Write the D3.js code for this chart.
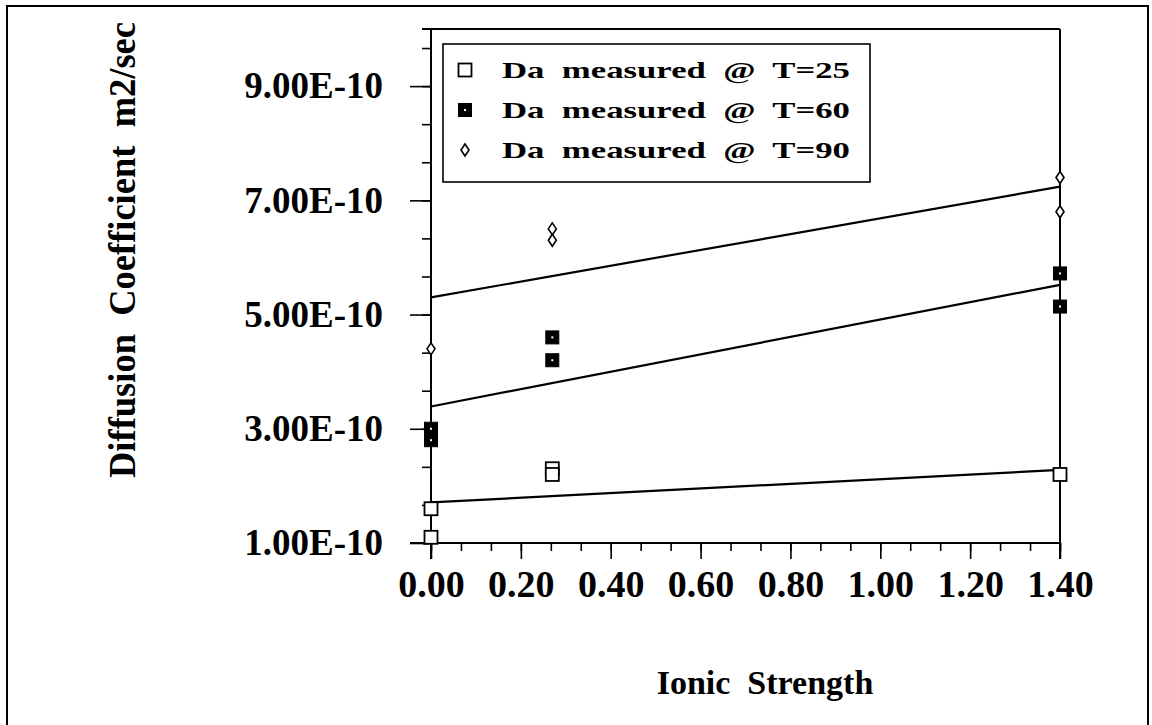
<!DOCTYPE html>
<html>
<head>
<meta charset="utf-8">
<script src="https://cdn.jsdelivr.net/npm/d3@7"></script>
<style>
  body { margin: 0; background: #fff; }
  svg { display: block; }
  text { font-family: "Liberation Serif", "DejaVu Serif", serif; font-weight: bold; fill: #000; }
</style>
</head>
<body>
<svg id="chart" width="1152" height="725"></svg>
<script>
// Measured diffusion coefficients (m2/sec) against ionic strength
const t25X = [0, 0, 0.27, 0.27, 1.40];
const t25Y = [1.10e-10, 1.60e-10, 2.30e-10, 2.20e-10, 2.20e-10];
const t60X = [0, 0, 0.27, 0.27, 1.40, 1.40];
const t60Y = [3.00e-10, 2.80e-10, 4.60e-10, 4.20e-10, 5.72e-10, 5.14e-10];
const t90X = [0, 0.27, 0.27, 1.40, 1.40];
const t90Y = [4.40e-10, 6.50e-10, 6.30e-10, 7.40e-10, 6.80e-10];

// Straight-line fits, end points at ionic strength 0 and 1.40
const fitX = [0, 1.40];
const fit25 = [1.71e-10, 2.28e-10];
const fit60 = [3.39e-10, 5.52e-10];
const fit90 = [5.30e-10, 7.24e-10];

// Axis ticks
const xTickValues = [0, 0.2, 0.4, 0.6, 0.8, 1.0, 1.2, 1.4];
const xTickLabels = ["0.00", "0.20", "0.40", "0.60", "0.80", "1.00", "1.20", "1.40"];
const yTickValues = [1e-10, 3e-10, 5e-10, 7e-10, 9e-10];
const yTickLabels = ["1.00E-10", "3.00E-10", "5.00E-10", "7.00E-10", "9.00E-10"];

const legendLabels = ["Da  measured  @  T=25", "Da  measured  @  T=60", "Da  measured  @  T=90"];

const svg = d3.select("#chart");

const x = d3.scaleLinear().domain([0, 1.40]).range([431, 1060]);
const y = d3.scaleLinear().domain([1e-10, 1e-9]).range([543, 29]);

// outer border
svg.append("path")
  .attr("d", "M7,725 V6 H1148 V725")
  .attr("fill", "none").attr("stroke", "#000").attr("stroke-width", 2);

// minor ticks (three per major interval)
const xMinor = d3.range(0, 1.4 + 1e-9, 0.2 / 3);
const yMinor = d3.range(1e-10, 1e-9 + 1e-20, 2e-10 / 3);

svg.append("g").attr("transform", `translate(0,${y(1e-10)})`)
  .call(d3.axisBottom(x).tickValues(xMinor).tickSize(8).tickFormat(""))
  .call(g => g.select(".domain").remove());
svg.append("g").attr("transform", `translate(${x(0)},0)`)
  .call(d3.axisLeft(y).tickValues(yMinor).tickSize(9).tickFormat(""))
  .call(g => g.select(".domain").remove());

// major ticks and labels
const xAxis = svg.append("g").attr("transform", `translate(0,${y(1e-10)})`)
  .call(d3.axisBottom(x).tickValues(xTickValues).tickSize(16).tickPadding(11)
    .tickFormat((d, i) => xTickLabels[i]));
xAxis.select(".domain").remove();
xAxis.selectAll("text").attr("font-size", 38).attr("font-family", null);

const yAxis = svg.append("g").attr("transform", `translate(${x(0)},0)`)
  .call(d3.axisLeft(y).tickValues(yTickValues).tickSize(21).tickPadding(27)
    .tickFormat((d, i) => yTickLabels[i]));
yAxis.select(".domain").remove();
yAxis.selectAll("text").attr("font-size", 37).attr("font-family", null);

svg.selectAll(".tick line").attr("stroke", "#000").attr("stroke-width", 1.6);

// frame: axis lines and top / right edges
const frame = svg.append("g").attr("stroke", "#000").attr("stroke-width", 2).attr("fill", "none");
frame.append("line").attr("x1", 410).attr("x2", x(1.40)).attr("y1", y(1e-10)).attr("y2", y(1e-10));
frame.append("line").attr("x1", x(0)).attr("x2", x(0)).attr("y1", y(1e-9)).attr("y2", y(1e-10) + 16);
frame.append("line").attr("x1", x(1.40)).attr("x2", x(1.40)).attr("y1", y(1e-9)).attr("y2", y(1e-10) + 16);
frame.append("line").attr("x1", 422).attr("x2", x(1.40)).attr("y1", y(1e-9)).attr("y2", y(1e-9));

// fit lines
const line = d3.line().x(d => x(d[0])).y(d => y(d[1]));
[fit25, fit60, fit90].forEach(f => {
  svg.append("path")
    .datum(fitX.map((v, i) => [v, f[i]]))
    .attr("d", line)
    .attr("fill", "none").attr("stroke", "#000").attr("stroke-width", 2.2);
});

// markers
function openSquare(g, cx, cy) {
  g.append("rect").attr("x", cx - 6.5).attr("y", cy - 6.5).attr("width", 13).attr("height", 13)
    .attr("fill", "#fff").attr("stroke", "#000").attr("stroke-width", 1.8);
}
function filledSquare(g, cx, cy) {
  g.append("rect").attr("x", cx - 6.5).attr("y", cy - 6.5).attr("width", 13).attr("height", 13)
    .attr("fill", "#000").attr("stroke", "#000").attr("stroke-width", 1);
  g.append("rect").attr("x", cx - 1).attr("y", cy - 1).attr("width", 2).attr("height", 2).attr("fill", "#fff");
}
function diamond(g, cx, cy) {
  g.append("path").attr("d", `M${cx},${cy - 6} L${cx + 4},${cy} L${cx},${cy + 6} L${cx - 4},${cy} Z`)
    .attr("fill", "#fff").attr("stroke", "#000").attr("stroke-width", 1.6);
}

const pts = svg.append("g");
t25X.forEach((v, i) => openSquare(pts, x(v), y(t25Y[i])));
t60X.forEach((v, i) => filledSquare(pts, x(v), y(t60Y[i])));
t90X.forEach((v, i) => diamond(pts, x(v), y(t90Y[i])));

// legend
const lg = svg.append("g");
lg.append("rect").attr("x", 443).attr("y", 44).attr("width", 427).attr("height", 138)
  .attr("fill", "#fff").attr("stroke", "#000").attr("stroke-width", 1.6);
const markers = [openSquare, filledSquare, diamond];
legendLabels.forEach((t, i) => {
  const cy = 70 + i * 40;
  markers[i](lg, 465, cy);
  lg.append("text").attr("x", 502).attr("y", cy).attr("dy", "0.35em")
    .attr("font-size", 23).attr("xml:space", "preserve")
    .attr("textLength", 348).attr("lengthAdjust", "spacingAndGlyphs").text(t);
});

// axis titles
svg.append("text").attr("x", 765).attr("y", 682).attr("dy", "0.35em").attr("text-anchor", "middle")
  .attr("font-size", 34).attr("xml:space", "preserve").text("Ionic  Strength");
svg.append("text").attr("transform", "translate(122,250) rotate(-90)").attr("dy", "0.35em")
  .attr("text-anchor", "middle").attr("font-size", 37).attr("xml:space", "preserve")
  .attr("textLength", 456).attr("lengthAdjust", "spacingAndGlyphs")
  .text("Diffusion  Coefficient  m2/sec");
</script>
</body>
</html>
